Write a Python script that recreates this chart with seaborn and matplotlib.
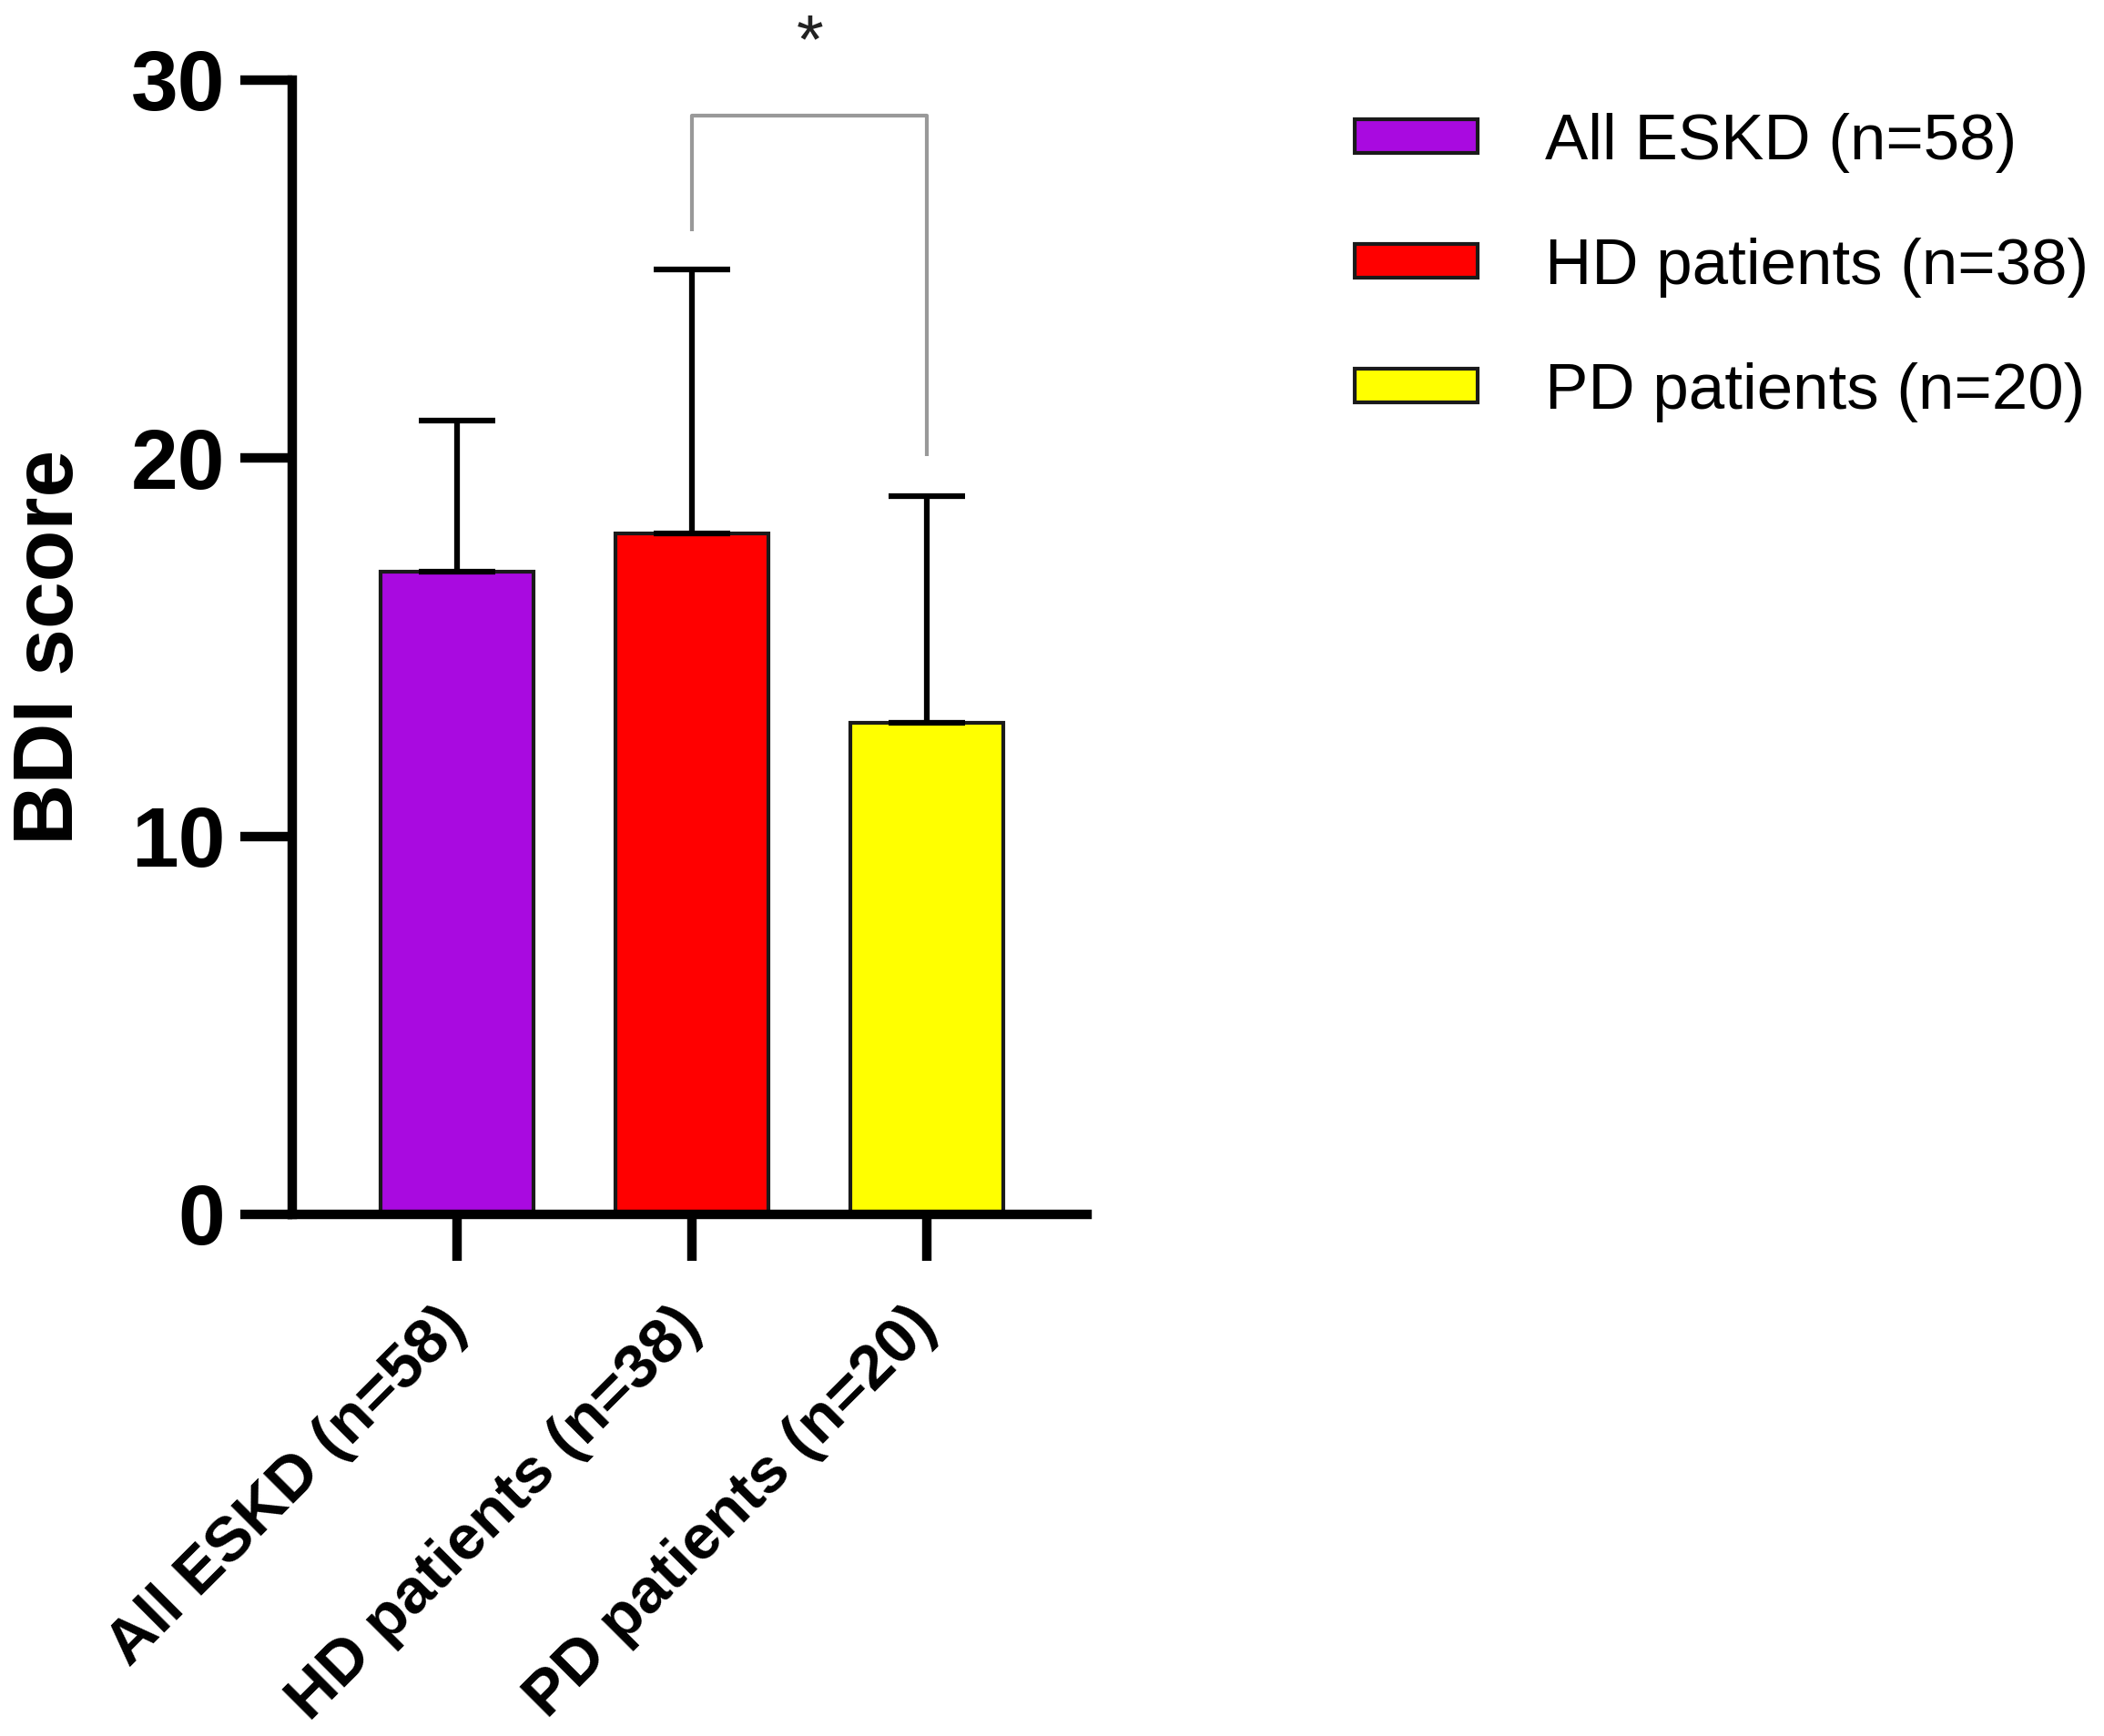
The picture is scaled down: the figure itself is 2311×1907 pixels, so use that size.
import matplotlib
matplotlib.use("Agg")
import matplotlib.pyplot as plt
from matplotlib.patches import Patch
import seaborn as sns
import pandas as pd
import numpy as np

# ---- data ----
categories = ["All ESKD (n=58)", "HD patients (n=38)", "PD patients (n=20)"]
means = [17, 18, 13]
sds = [4, 7, 6]
colors = ["#A90AE0", "#FF0000", "#FFFF00"]
y_ticks = [0, 10, 20, 30]
# significance bracket between HD and PD
bracket_pair = (1, 2)
bracket_ends = [26.0, 20.05]
bracket_top = 29.05
sig_label = "*"
sig_y = 30.95

sns.set_style("ticks")
plt.rcParams["font.family"] = ["Liberation Sans", "DejaVu Sans"]
plt.rcParams["text.color"] = "black"
plt.rcParams["axes.labelcolor"] = "black"
plt.rcParams["xtick.color"] = "black"
plt.rcParams["ytick.color"] = "black"

df = pd.DataFrame({"group": categories, "score": means})

fig = plt.figure(figsize=(23.11, 19.07), dpi=100)
ax = fig.add_axes([321 / 2311, 1 - 1334 / 1907, (1194 - 321) / 2311, (1334 - 88) / 1907])

sns.barplot(data=df, x="group", y="score", hue="group", palette=colors,
            order=categories, hue_order=categories, errorbar=None,
            width=0.65, edgecolor="#1a1a1a", linewidth=3, legend=False, ax=ax,
            saturation=1)

xpos = np.arange(len(categories))
ax.errorbar(xpos, means, yerr=[np.zeros(len(sds)), sds], fmt="none",
            ecolor="black", elinewidth=4.5, capsize=30, capthick=4.5, zorder=1)

ax.set_xlim(-0.70, 2.68)
ax.set_ylim(0, 30)
ax.set_yticks(y_ticks)
ax.set_yticklabels([str(t) for t in y_ticks], fontsize=67, fontweight="bold")
ax.set_xticks(xpos)
ax.set_xticklabels(categories, fontsize=50, fontweight="bold", rotation=45,
                   ha="right", va="center", rotation_mode="anchor")
ax.set_xlabel("")
ax.set_ylabel("BDI score", fontsize=67, fontweight="bold", labelpad=32)

sns.despine(ax=ax)
for side in ["left", "bottom"]:
    ax.spines[side].set_linewidth(7.5)
    ax.spines[side].set_color("black")
ax.tick_params(axis="y", length=41, width=7.5, pad=12, color="black")
ax.tick_params(axis="x", length=37, width=7.5, pad=44, color="black")

# significance bracket
x1, x2 = bracket_pair
ax.plot([x1, x1, x2, x2], [bracket_ends[0], bracket_top, bracket_top, bracket_ends[1]],
        color="#999999", lw=3, clip_on=False, solid_capstyle="butt", zorder=0)
ax.text((x1 + x2) / 2, sig_y, sig_label, ha="center", va="center", fontsize=55,
        color="#222222", clip_on=False)

handles = [Patch(facecolor=c, edgecolor="#1a1a1a", linewidth=3) for c in colors]
fig.legend(handles, categories, loc="upper left",
           bbox_to_anchor=(1488 / 2311, 1 - 124 / 1907), frameon=False,
           fontsize=51, handlelength=1.9, handleheight=0.42, handletextpad=1.05,
           labelspacing=1.0, borderpad=0, borderaxespad=0)

fig.savefig("out.png", dpi=100)
